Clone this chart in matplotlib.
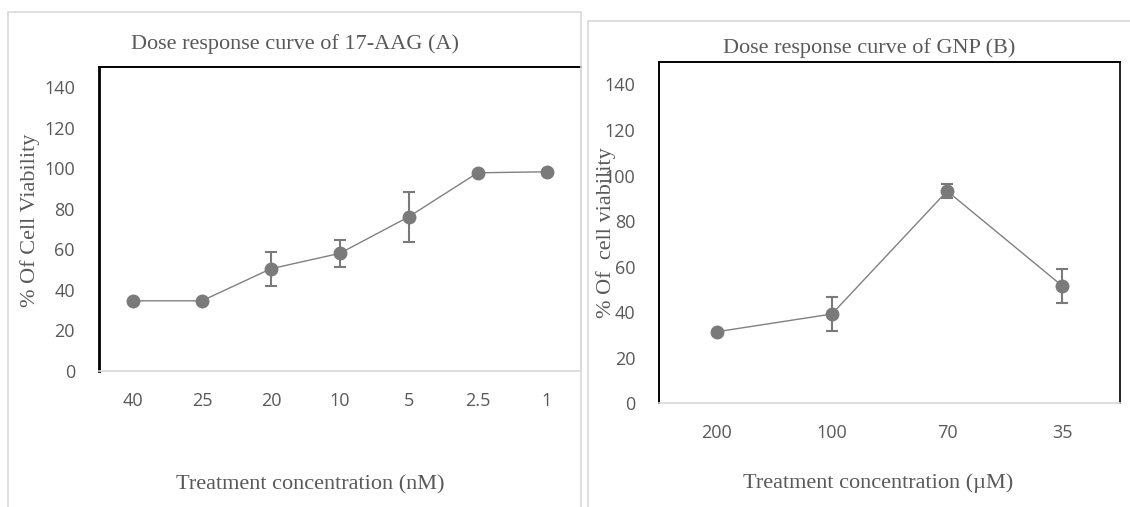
import numpy as np
import matplotlib
matplotlib.use("Agg")
import matplotlib.pyplot as plt
from matplotlib.patches import Rectangle

# data
conc_a = ["40", "25", "20", "10", "5", "2.5", "1"]
viab_a = [34.6, 34.6, 50.4, 58.0, 76.0, 97.7, 98.2]
err_a = [0, 0, 8.4, 6.7, 12.3, 0, 0]

conc_b = ["200", "100", "70", "35"]
viab_b = [31.4, 39.2, 93.2, 51.5]
err_b = [0, 7.5, 3.0, 7.6]

grey = "#595959"
mark = "#7a7a7a"
serif = "Liberation Serif"
sans = "Open Sans"

fig = plt.figure(figsize=(11.3, 5.07), dpi=100)

# light panel borders
fig.patches.append(Rectangle((8 / 1130, -0.1), (581 - 8) / 1130, 1.1 - 12 / 507,
                             transform=fig.transFigure, fill=False,
                             edgecolor="#d9d9d9", lw=1.2))
fig.patches.append(Rectangle((588 / 1130, -0.1), 0.6, 1.1 - 21 / 507,
                             transform=fig.transFigure, fill=False,
                             edgecolor="#d9d9d9", lw=1.2))


def draw(ax, labels, vals, errs, left_lw, right_col):
    x = np.arange(len(labels))
    ax.plot(x, vals, color="#808080", lw=1.0, zorder=2)
    e = np.array(errs, dtype=float)
    m = e > 0
    ax.errorbar(x[m], np.array(vals)[m], yerr=e[m], fmt="none",
                ecolor=mark, elinewidth=1.5, capsize=4, capthick=1.5, zorder=3)
    ax.plot(x, vals, "o", color=mark, ms=9, zorder=4)
    ax.set_xlim(-0.5, len(labels) - 0.5)
    ax.set_ylim(0, 150)
    ax.set_yticks(range(0, 141, 20))
    ax.set_xticks(x)
    ax.set_xticklabels(labels)
    ax.tick_params(length=0, labelsize=13, labelcolor=grey)
    ax.tick_params(axis="x", pad=15)
    ax.tick_params(axis="y", pad=17)
    for lab in ax.get_xticklabels() + ax.get_yticklabels():
        lab.set_fontfamily(sans)
    ax.spines["left"].set_color("black")
    ax.spines["left"].set_linewidth(left_lw)
    ax.spines["top"].set_color("black")
    ax.spines["top"].set_linewidth(1.4)
    ax.spines["right"].set_color(right_col)
    ax.spines["right"].set_linewidth(1.2)
    ax.spines["bottom"].set_color("#d9d9d9")
    ax.spines["bottom"].set_linewidth(1.2)


ax1 = fig.add_axes([98.6 / 1130, 1 - 371 / 507, (581 - 98.6) / 1130, (371 - 66.7) / 507])
draw(ax1, conc_a, viab_a, err_a, 2.0, "#d9d9d9")

ax2 = fig.add_axes([659 / 1130, 1 - 403.3 / 507, (1120 - 659) / 1130, (403.3 - 61.7) / 507])
draw(ax2, conc_b, viab_b, err_b, 1.4, "black")

txt = dict(family=serif, color=grey, fontsize=16, ha="center", va="center")
fig.text(295 / 1130, 1 - 44 / 507, "Dose response curve of 17-AAG (A)", **txt)
fig.text(869 / 1130, 1 - 47.7 / 507, "Dose response curve of GNP (B)", **txt)
fig.text(310 / 1130, 1 - 485 / 507, "Treatment concentration (nM)", **txt)
fig.text(878 / 1130, 1 - 483 / 507, "Treatment concentration (\u00b5M)", **txt)
fig.text(30 / 1130, 1 - 220 / 507, "% Of Cell Viability", rotation=90, **txt)
fig.text(606.5 / 1130, 1 - 233 / 507, "% Of  cell viability", rotation=90, **txt)

fig.savefig("out.png", dpi=100)
